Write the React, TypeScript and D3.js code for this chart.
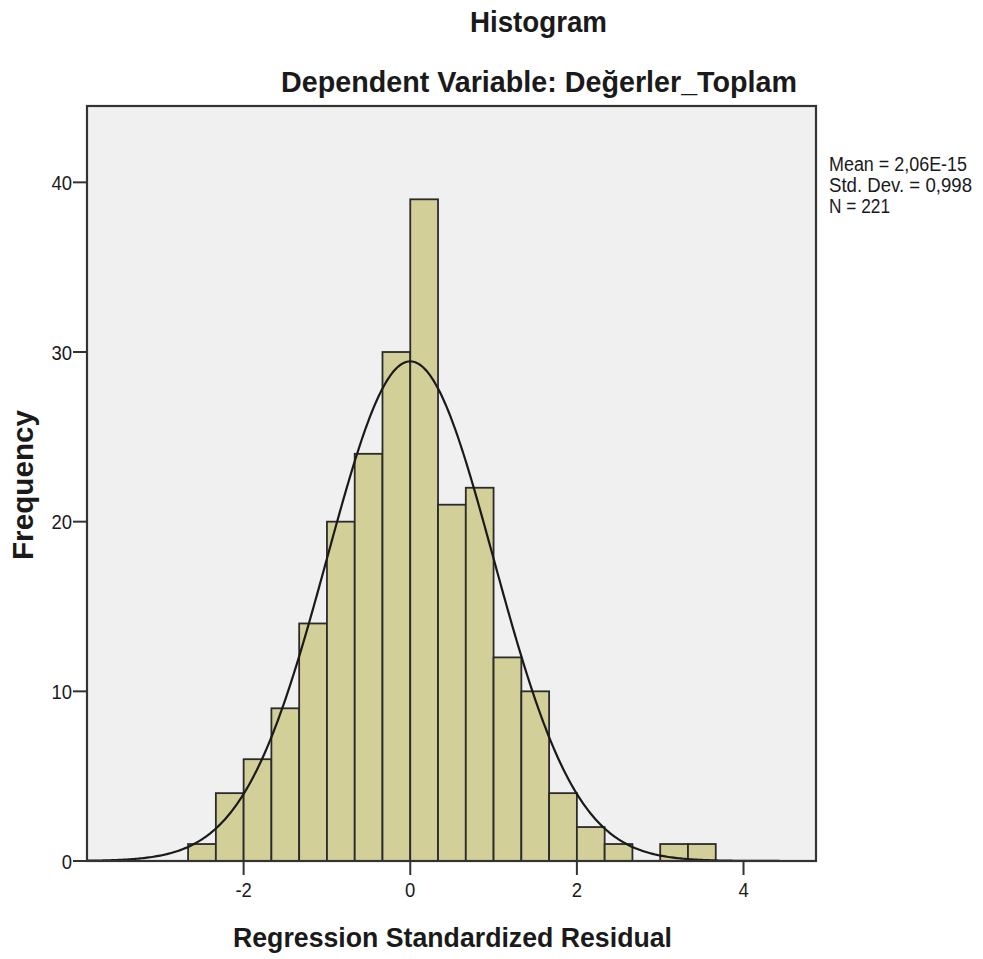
import React, { useEffect, useRef } from 'react';
import * as d3 from 'd3';

// histogram bins (bin width 1/3, starting at -8/3)
const binStarts = [-8, -7, -6, -5, -4, -3, -2, -1, 0, 1, 2, 3, 4, 5, 6, 7, 9, 10].map((k) => k / 3);
const binCounts = [1, 4, 6, 9, 14, 20, 24, 30, 39, 21, 22, 12, 10, 4, 2, 1, 1, 1];
const binWidth = 1 / 3;

const xTicks = [-2, 0, 2, 4];
const yTicks = [0, 10, 20, 30, 40];

const statMean = 2.06e-15;
const statSd = 0.998;
const statN = 221;
const statLines = ['Mean = 2,06E-15', 'Std. Dev. = 0,998', 'N = 221'];
const statWidths = [138, 143, 61];

const App = () => {
  const svgRef = useRef<SVGSVGElement>(null);

  useEffect(() => {
    const svg = d3.select(svgRef.current);
    svg.selectAll('*').remove();

    const font = '"Liberation Sans", Arial, sans-serif';
    const margin = { left: 87, right: 167, top: 106, bottom: 98 };
    const W = 983;
    const H = 959;
    const squeeze = 0.88; // tick labels in the source are a bit narrow

    const xScale = d3.scaleLinear().domain([-3.88, 4.87]).range([margin.left, W - margin.right]);
    const yScale = d3.scaleLinear().domain([0, 44.5]).range([H - margin.bottom, margin.top]);

    const label = (x: number, y: number, txt: string, size: number, anchor: string) =>
      svg.append('text')
        .attr('transform', `translate(${x},${y}) scale(${squeeze},1)`)
        .attr('text-anchor', anchor)
        .attr('font-family', font)
        .attr('font-size', size)
        .attr('fill', '#1a1a1a')
        .text(txt);

    // text stretched to a measured width
    const fitted = (transform: string, txt: string, size: number, len: number, anchor: string, bold: boolean) =>
      svg.append('text')
        .attr('transform', transform)
        .attr('text-anchor', anchor)
        .attr('font-family', font)
        .attr('font-size', size)
        .attr('font-weight', bold ? 'bold' : 'normal')
        .attr('fill', '#1a1a1a')
        .attr('textLength', len)
        .attr('lengthAdjust', 'spacingAndGlyphs')
        .text(txt);

    // plot background
    svg.append('rect')
      .attr('x', margin.left)
      .attr('y', margin.top)
      .attr('width', W - margin.left - margin.right)
      .attr('height', H - margin.top - margin.bottom)
      .attr('fill', '#f0f0f0');

    // bars
    svg.selectAll('rect.bar')
      .data(binStarts.map((s, i) => ({ s, c: binCounts[i] })))
      .enter()
      .append('rect')
      .attr('class', 'bar')
      .attr('x', (d) => xScale(d.s))
      .attr('y', (d) => yScale(d.c))
      .attr('width', (d) => xScale(d.s + binWidth) - xScale(d.s))
      .attr('height', (d) => yScale(0) - yScale(d.c))
      .attr('fill', '#d3cf98')
      .attr('stroke', '#2b2b2b')
      .attr('stroke-width', 1.8);

    // normal curve from the stats
    const curvePts = d3.range(-3.88, 4.88, 0.02).map((x) => {
      const z = (x - statMean) / statSd;
      const y = statN * binWidth * Math.exp(-0.5 * z * z) / (statSd * Math.sqrt(2 * Math.PI));
      return [x, y] as [number, number];
    });
    const line = d3.line<[number, number]>()
      .x((d) => xScale(d[0]))
      .y((d) => yScale(d[1]));
    svg.append('path')
      .attr('d', line(curvePts))
      .attr('fill', 'none')
      .attr('stroke', '#1a1a1a')
      .attr('stroke-width', 2.2);

    // frame
    svg.append('rect')
      .attr('x', margin.left)
      .attr('y', margin.top)
      .attr('width', W - margin.left - margin.right)
      .attr('height', H - margin.top - margin.bottom)
      .attr('fill', 'none')
      .attr('stroke', '#333')
      .attr('stroke-width', 2.2);

    // y axis ticks
    yTicks.forEach((t) => {
      svg.append('line')
        .attr('x1', margin.left - 14).attr('x2', margin.left)
        .attr('y1', yScale(t)).attr('y2', yScale(t))
        .attr('stroke', '#333').attr('stroke-width', 2);
      label(margin.left - 15, yScale(t) + 7.5, String(t), 21, 'end');
    });

    // x axis ticks
    xTicks.forEach((t) => {
      svg.append('line')
        .attr('x1', xScale(t)).attr('x2', xScale(t))
        .attr('y1', yScale(0)).attr('y2', yScale(0) + 14)
        .attr('stroke', '#333').attr('stroke-width', 2);
      label(xScale(t), 897, String(t), 21, 'middle');
    });

    // titles
    fitted('translate(538.5,32)', 'Histogram', 30, 137, 'middle', true);
    fitted('translate(539,92)', 'Dependent Variable: Değerler_Toplam', 30, 516, 'middle', true);
    fitted('translate(452.5,947)', 'Regression Standardized Residual', 27, 439, 'middle', true);
    fitted('translate(33,485) rotate(-90)', 'Frequency', 29, 150, 'middle', true);

    // stats box
    statLines.forEach((s, i) => {
      fitted(`translate(829,${171 + i * 21})`, s, 20, statWidths[i], 'start', false);
    });
  }, []);

  return (
    <svg
      ref={svgRef}
      width={983}
      height={959}
      style={{ position: 'absolute', left: 0, top: 0, background: '#fff' }}
    />
  );
};

export default App;
